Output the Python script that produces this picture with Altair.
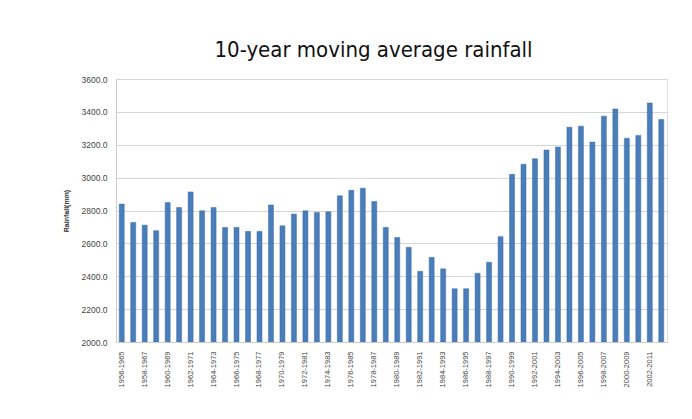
import altair as alt
import pandas as pd

periods = [
    "1956-1965", "1957-1966", "1958-1967", "1959-1968", "1960-1969", "1961-1970",
    "1962-1971", "1963-1972", "1964-1973", "1965-1974", "1966-1975", "1967-1976",
    "1968-1977", "1969-1978", "1970-1979", "1971-1980", "1972-1981", "1973-1982",
    "1974-1983", "1975-1984", "1976-1985", "1977-1986", "1978-1987", "1979-1988",
    "1980-1989", "1981-1990", "1982-1991", "1983-1992", "1984-1993", "1985-1994",
    "1986-1995", "1987-1996", "1988-1997", "1989-1998", "1990-1999", "1991-2000",
    "1992-2001", "1993-2002", "1994-2003", "1995-2004", "1996-2005", "1997-2006",
    "1998-2007", "1999-2008", "2000-2009", "2001-2010", "2002-2011", "2003-2012",
]
rainfall = [
    2839, 2727, 2711, 2677, 2848, 2818, 2913, 2798, 2818, 2697, 2697, 2673,
    2673, 2834, 2707, 2778, 2798, 2788, 2792, 2889, 2923, 2936, 2854, 2697,
    2636, 2576, 2430, 2515, 2445, 2324, 2324, 2418, 2485, 2641, 3020, 3081,
    3115, 3168, 3186, 3307, 3313, 3216, 3374, 3418, 3239, 3257, 3454, 3354,
]
y_ticks = [2000, 2200, 2400, 2600, 2800, 3000, 3200, 3400, 3600]

df = pd.DataFrame({"period": periods, "rainfall": rainfall, "base": 2000})

chart = (
    alt.Chart(df)
    .mark_bar(size=5, color="#4A7EBB", stroke="#3B6AA0", strokeWidth=0.5, clip=True)
    .encode(
        x=alt.X(
            "period:N",
            sort=periods,
            title=None,
            scale=alt.Scale(paddingInner=0, paddingOuter=0),
            axis=alt.Axis(
                values=periods[::2],
                labelAngle=-90,
                labelFontSize=7.5,
                labelColor="#444444",
                ticks=False,
                domainColor="#cccccc",
                labelPadding=9,
            ),
        ),
        y=alt.Y(
            "rainfall:Q",
            title="Rainfall(mm)",
            scale=alt.Scale(domain=[2000, 3600], nice=False, zero=False),
            axis=alt.Axis(
                values=y_ticks,
                format=".1f",
                labelFontSize=8.5,
                labelColor="#444444",
                ticks=False,
                domainColor="#cccccc",
                gridColor="#d6d6d6",
                labelPadding=9,
                titleFontSize=7,
                titleFontWeight="bold",
                titleColor="#333333",
                titlePadding=12,
            ),
        ),
        y2=alt.Y2("base:Q"),
    )
    .properties(
        width=551,
        height=263,
        padding={"left": 54, "top": 31, "right": 5, "bottom": 5},
        title=alt.TitleParams(
            "10-year moving average rainfall",
            font="DejaVu Sans Condensed, Roboto Condensed, Roboto",
            fontSize=22,
            fontWeight="normal",
            color="#111111",
            anchor="middle",
            dx=-18,
            offset=13,
        ),
    )
    .configure_view(stroke=None)
    .configure(background="white", font="Liberation Sans")
)

chart.save("out.html", embed_options={"renderer": "svg", "actions": False})
